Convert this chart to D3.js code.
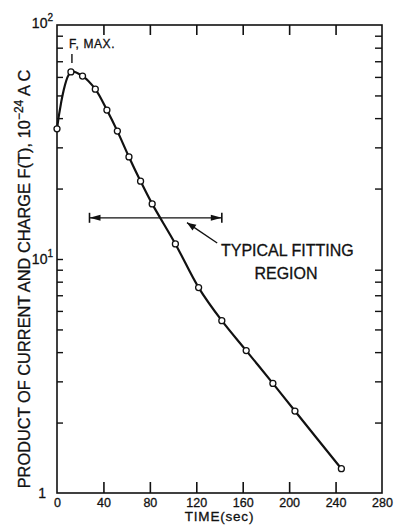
<!DOCTYPE html>
<html>
<head>
<meta charset="utf-8">
<script src="https://cdn.jsdelivr.net/npm/d3@7/dist/d3.min.js"></script>
<style>
  html, body { margin: 0; padding: 0; background: #fff; }
  svg { display: block; }
  text { font-family: "Liberation Sans", Arial, sans-serif; fill: #111; stroke: #111; stroke-width: 0.3px; }
</style>
</head>
<body>
<svg id="chart" width="396" height="525"></svg>
<script>
// ---- data ----
const times  = [0, 12, 22, 33, 43, 52, 62, 72, 82, 102, 122, 142, 163, 186, 205, 245];
const values = [36.0, 63.0, 60.5, 53.2, 43.3, 35.2, 27.3, 21.5, 17.2, 11.6, 7.55, 5.45, 4.06, 2.94, 2.24, 1.27];
const xTicks = [0, 40, 80, 120, 160, 200, 240, 280];
const yMajor = [1, 10, 100];
const yMinor = [2,3,4,5,6,7,8,9,20,30,40,50,60,70,80,90];
const fitRange = [28, 142];
const fitLevel = 15.0;
const peakTime = 12;

(function () {
const W = 396, H = 525;
const m = {left: 57, right: 14, top: 25, bottom: 32};
const svg = d3.select("#chart");

const x = d3.scaleLinear().domain([0, 280]).range([m.left, W - m.right]);
const y = d3.scaleLog().domain([1, 100]).range([H - m.bottom, m.top]);

const ink = "#111";

// frame
svg.append("rect")
  .attr("x", x(0)).attr("y", y(100))
  .attr("width", x(280) - x(0)).attr("height", y(1) - y(100))
  .attr("fill", "none").attr("stroke", ink).attr("stroke-width", 1.6);

// bottom axis ticks (inward) + labels
const gBottom = svg.append("g").attr("transform", `translate(0,${y(1)})`)
  .call(d3.axisBottom(x).tickValues(xTicks).tickSize(-11).tickFormat(d3.format("d")));
gBottom.select(".domain").remove();
gBottom.selectAll(".tick line").attr("stroke", ink).attr("stroke-width", 1.6);
gBottom.selectAll(".tick text").attr("font-size", 12.5).attr("dy", null).attr("y", 14)
  .style("font-family", "'Liberation Sans', Arial, sans-serif").attr("fill", ink);
gBottom.selectAll(".tick").filter(d => d === 0 || d === 280).select("line").remove();

// top axis ticks (inward)
const gTop = svg.append("g").attr("transform", `translate(0,${y(100)})`)
  .call(d3.axisTop(x).tickValues(xTicks.filter(d => d > 0 && d < 280)).tickSize(-10).tickFormat(""));
gTop.select(".domain").remove();
gTop.selectAll(".tick line").attr("stroke", ink).attr("stroke-width", 1.6);

// left axis minor ticks (inward)
const gLeft = svg.append("g").attr("transform", `translate(${x(0)},0)`)
  .call(d3.axisLeft(y).tickValues(yMinor.concat([10])).tickSize(-6).tickFormat(""));
gLeft.select(".domain").remove();
gLeft.selectAll(".tick line").attr("stroke", ink).attr("stroke-width", 1.4);

// right axis minor ticks (inward)
const gRight = svg.append("g").attr("transform", `translate(${x(280)},0)`)
  .call(d3.axisRight(y).tickValues(yMinor).tickSize(-7).tickFormat(""));
gRight.select(".domain").remove();
gRight.selectAll(".tick line").attr("stroke", ink).attr("stroke-width", 1.4);

// y tick labels
const yl = svg.append("g");
yMajor.forEach(v => {
  const t = yl.append("text").attr("font-size", 14).attr("text-anchor", "end")
    .attr("x", x(0) - 4 - (v === 1 ? 7 : 0)).attr("y", y(v) + (v === 100 ? 3 : 5));
  if (v === 1) { t.text("1"); }
  else {
    t.append("tspan").text("10");
    t.append("tspan").attr("font-size", 10).attr("dy", -7).text(v === 100 ? "2" : "1");
  }
});

// x axis title
svg.append("text").attr("x", (x(0) + x(280)) / 2).attr("y", H - 4)
  .attr("text-anchor", "middle").attr("font-size", 13.5).attr("letter-spacing", 0.8).text("TIME(sec)");

// y axis title
const yt = svg.append("text")
  .attr("transform", `translate(30,279) rotate(-90)`)
  .attr("text-anchor", "middle").attr("font-size", 16.4);
yt.append("tspan").text("PRODUCT OF CURRENT AND CHARGE F(T), 10");
yt.append("tspan").attr("font-size", 12).attr("dy", -7).text("\u221224");
yt.append("tspan").attr("dy", 7).text(" A C");

// fitted curve
const pts = times.map((t, i) => [t, values[i]]);
const line = d3.line().x(d => x(d[0])).y(d => y(d[1])).curve(d3.curveCatmullRom.alpha(0.5));
svg.append("path").datum(pts).attr("d", line)
  .attr("fill", "none").attr("stroke", ink).attr("stroke-width", 2.2);

// data markers
svg.append("g").selectAll("circle").data(pts).join("circle")
  .attr("cx", d => x(d[0])).attr("cy", d => y(d[1])).attr("r", 3)
  .attr("fill", "#fff").attr("stroke", ink).attr("stroke-width", 1.3);

// F max annotation
svg.append("text").attr("x", x(peakTime) - 2).attr("y", 48).attr("font-size", 12)
  .attr("letter-spacing", 0.6).text("F, MAX.");
svg.append("line").attr("x1", x(peakTime) + 1).attr("x2", x(peakTime) + 1)
  .attr("y1", 54).attr("y2", 63).attr("stroke", ink).attr("stroke-width", 1.4);

// typical fitting region bracket
const fy = y(fitLevel);
const fx0 = x(fitRange[0]), fx1 = x(fitRange[1]);
svg.append("line").attr("x1", fx0).attr("x2", fx1).attr("y1", fy).attr("y2", fy)
  .attr("stroke", ink).attr("stroke-width", 1.3);
[fx0, fx1].forEach((fx, i) => {
  svg.append("line").attr("x1", fx).attr("x2", fx).attr("y1", fy - 5).attr("y2", fy + 5)
    .attr("stroke", ink).attr("stroke-width", 1.6);
  const dir = i === 0 ? 1 : -1;
  svg.append("path")
    .attr("d", `M${fx},${fy} L${fx + dir * 11},${fy - 3} L${fx + dir * 11},${fy + 3} Z`)
    .attr("fill", ink);
});

// pointer arrow
const ax0 = x(138), ay0 = y(11.7), ax1 = x(112), ay1 = y(14.3);
svg.append("line").attr("x1", ax0).attr("y1", ay0).attr("x2", ax1).attr("y2", ay1)
  .attr("stroke", ink).attr("stroke-width", 1.4);
{
  const ang = Math.atan2(ay1 - ay0, ax1 - ax0);
  const L = 9, Wd = 3.5;
  const bx = ax1 - L * Math.cos(ang), by = ay1 - L * Math.sin(ang);
  const px = -Math.sin(ang) * Wd, py = Math.cos(ang) * Wd;
  svg.append("path")
    .attr("d", `M${ax1},${ay1} L${bx + px},${by + py} L${bx - px},${by - py} Z`)
    .attr("fill", ink);
}
svg.append("text").attr("x", 221).attr("y", 256).attr("font-size", 16).text("TYPICAL FITTING");
svg.append("text").attr("x", 286).attr("y", 279).attr("font-size", 16)
  .attr("text-anchor", "middle").text("REGION");
})();
</script>
</body>
</html>
